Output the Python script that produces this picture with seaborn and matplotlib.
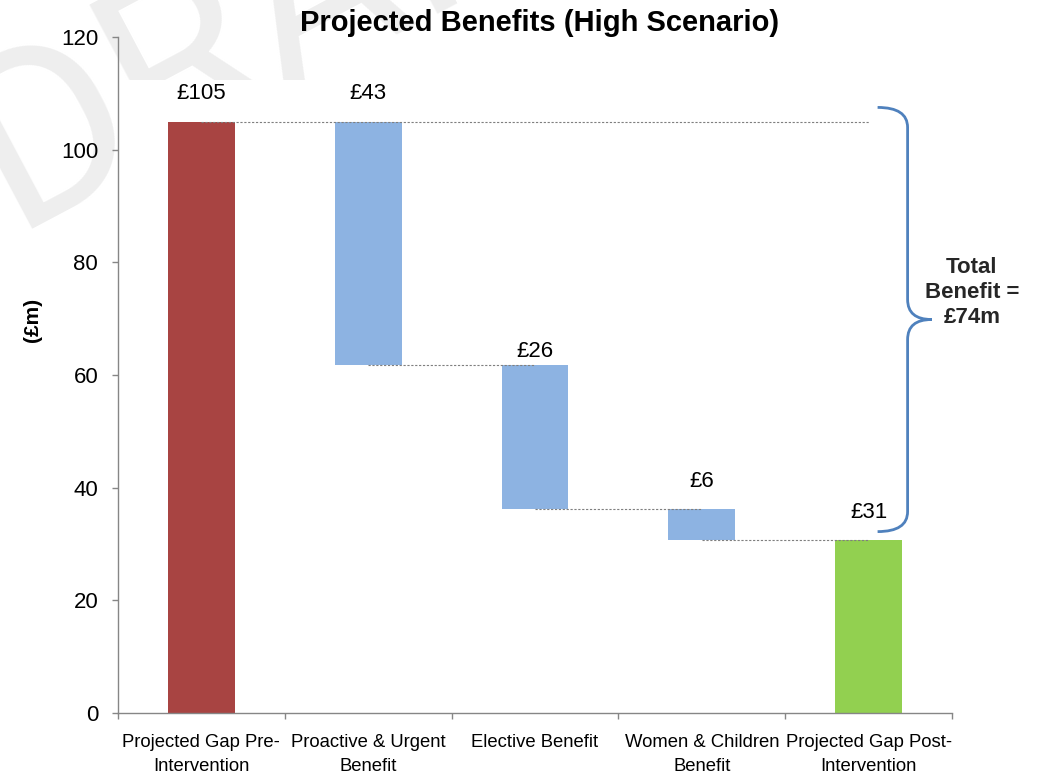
import matplotlib
matplotlib.use("Agg")
import matplotlib.pyplot as plt
from matplotlib.path import Path
from matplotlib.patches import PathPatch, Rectangle
import numpy as np
import pandas as pd
import seaborn as sns

# ---- data -------------------------------------------------------------
stages = [
    "Projected Gap Pre-\nIntervention",
    "Proactive & Urgent\nBenefit",
    "Elective Benefit",
    "Women & Children\nBenefit",
    "Projected Gap Post-\nIntervention",
]
gap_pre = 105.0                    # £m gap before any intervention
benefits = [43.2, 25.6, 5.5]       # £m saved by each intervention
y_ticks = [0, 20, 40, 60, 80, 100, 120]

gap_post = gap_pre - sum(benefits)
total_benefit = gap_pre - gap_post

# waterfall geometry: running level after each step, bar heights, bar bases
levels = [gap_pre] + list(gap_pre - np.cumsum(benefits))
heights = [gap_pre] + benefits + [gap_post]
bases = [0.0] + levels[1:] + [0.0]
tops = [b + h for b, h in zip(bases, heights)]

# ---- style ------------------------------------------------------------
bar_colors = ["#A84442", "#8DB3E2", "#8DB3E2", "#8DB3E2", "#92D050"]
label_lift_pt = [20, 20, 9.5, 19.5, 19.5]   # value-label offset above each bar
spine_color = "#868686"
guide_color = "#7F7F7F"
brace_color = "#4F81BD"

sns.set_theme(style="ticks")
plt.rcParams["font.family"] = ["Liberation Sans", "DejaVu Sans"]

W, H = 1040, 774
fig = plt.figure(figsize=(W / 100, H / 100), dpi=100)
ax = fig.add_axes([118 / W, 1 - 713 / H, (952 - 118) / W, (713 - 37) / H])
ax.patch.set_alpha(0)

# faint watermark, partly masked by the white chart panel
fig.text(12 / W, 1 - 229 / H, "DRAFT", fontsize=172, color="#EEEEEE", rotation=28,
         family=["Roboto", "Liberation Sans"], rotation_mode="anchor",
         ha="left", va="baseline", zorder=-2)
fig.patches.append(Rectangle((124 / W, 0), 1 - 124 / W, 1 - 80 / H,
                             transform=fig.transFigure, facecolor="white",
                             edgecolor="none", zorder=-1))

df = pd.DataFrame({"stage": stages, "height": heights})
sns.barplot(data=df, x="stage", y="height", order=stages, width=0.4,
            color=bar_colors[0], saturation=1, errorbar=None, ax=ax)
for patch, base, col in zip(ax.patches, bases, bar_colors):
    patch.set_y(base)
    patch.set_facecolor(col)
    patch.set_edgecolor("none")

ax.set_xlim(-0.5, len(stages) - 0.5)
ax.set_ylim(y_ticks[0], y_ticks[-1])

# dotted guides joining the steps
dots = dict(color=guide_color, lw=0.8, ls=(0, (2, 1.5)), zorder=3)
ax.plot([0, len(stages) - 1], [gap_pre, gap_pre], **dots)
for i in range(1, len(levels)):
    ax.plot([i, i + 1], [levels[i], levels[i]], **dots)

# value labels
for i, (top, h) in enumerate(zip(tops, heights)):
    ax.annotate(f"£{h:.0f}", (i, top), xytext=(0, label_lift_pt[i]),
                textcoords="offset points", ha="center", va="center",
                fontsize=16, color="black")

# axes, ticks and labels
ax.set_yticks(y_ticks)
ax.tick_params(axis="y", labelsize=16, length=4.3, width=1, color=spine_color,
               pad=10, left=True, labelcolor="black")
ax.set_xticks(np.arange(-0.5, len(stages), 1.0))
ax.set_xticklabels([])
ax.set_xticks(range(len(stages)), labels=stages, minor=True,
              fontsize=13.3, linespacing=1.55, color="black")
ax.tick_params(axis="x", which="major", length=4.3, width=1, color=spine_color,
               bottom=True)
ax.tick_params(axis="x", which="minor", length=0, pad=15, bottom=True)

for side in ("top", "right"):
    ax.spines[side].set_visible(False)
for side in ("left", "bottom"):
    ax.spines[side].set_color(spine_color)
    ax.spines[side].set_linewidth(1)

ax.set_xlabel("")
ax.set_ylabel("(£m)", fontsize=15, fontweight="bold", va="center", color="black")
ax.yaxis.set_label_coords(-0.103, 0.581)
ax.set_title("Projected Benefits (High Scenario)", fontsize=21, fontweight="bold",
             pad=3.6, x=0.506, color="black")

# curly brace spanning the total benefit
px_x = ax.bbox.width / len(stages)            # pixels per category
px_y = ax.bbox.height / (y_ticks[-1] - y_ticks[0])
last = len(stages) - 1
x0 = last + 9 / px_x
x1 = last + 39 / px_x
x2 = last + 63 / px_x
top = gap_pre + 2.5
bot = gap_post + 1.5
mid = (top + bot) / 2
ry = 20 / px_y
verts = [
    (x0, top), (x1, top), (x1, top - ry),
    (x1, mid + ry), (x1, mid), (x2, mid),
    (x1, mid), (x1, mid - ry),
    (x1, bot + ry), (x1, bot), (x0, bot),
]
codes = [
    Path.MOVETO, Path.CURVE3, Path.CURVE3,
    Path.LINETO, Path.CURVE3, Path.CURVE3,
    Path.CURVE3, Path.CURVE3,
    Path.LINETO, Path.CURVE3, Path.CURVE3,
]
ax.add_patch(PathPatch(Path(verts, codes), facecolor="none", edgecolor=brace_color,
                       lw=2, clip_on=False, zorder=4))
ax.annotate(f"Total\nBenefit =\n£{total_benefit:.0f}m", (x2, mid),
            xytext=(29, 19.5), textcoords="offset points", ha="center",
            va="center", fontsize=16, fontweight="bold", linespacing=1.25,
            annotation_clip=False)

fig.savefig("out.png", dpi=100)
